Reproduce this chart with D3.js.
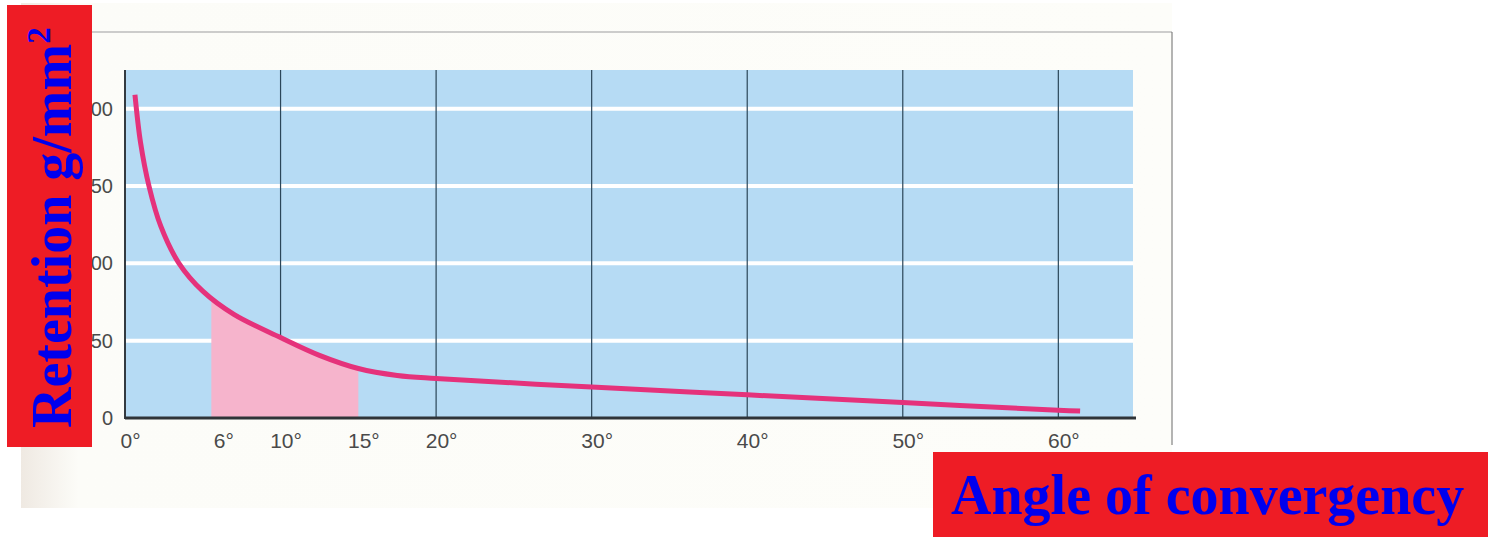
<!DOCTYPE html>
<html>
<head>
<meta charset="utf-8">
<script src="https://cdn.jsdelivr.net/npm/d3@7/dist/d3.min.js"></script>
<style>
  html, body { margin: 0; padding: 0; background: #ffffff; }
  svg { display: block; }
</style>
</head>
<body>
<svg id="chart" width="1488" height="537"></svg>
<script>
// ---- data ----
const angles    = [0.64, 1.0, 1.54, 2.3, 3.47, 5.0, 7.0, 10, 12.5, 15, 17.5, 20, 30, 40, 50, 60, 61.4];
const retention = [209, 178, 150, 124, 100, 82, 67, 52, 40.5, 32, 27.5, 25.5, 20, 15, 10, 5, 4.5];
const xTickValues = [0, 6, 10, 15, 20, 30, 40, 50, 60];
const xGridValues = [10, 20, 30, 40, 50, 60];
const yTickValues = [0, 50, 100, 150, 200];
const yGridValues = [50, 100, 150, 200];
const shadedRange = [5.55, 15];
const yTitle = "Retention g/mm";
const yTitleSup = "2";
const xTitle = "Angle of convergency";

const points = angles.map((a, i) => ({ a, r: retention[i] }));

const svg = d3.select("#chart");

// paper background of the scan
const defs = svg.append("defs");
const grad = defs.append("linearGradient").attr("id", "paperGrad")
  .attr("x1", "0").attr("x2", "1").attr("y1", "0").attr("y2", "0");
grad.append("stop").attr("offset", "0").attr("stop-color", "#efe9e2");
grad.append("stop").attr("offset", "0.05").attr("stop-color", "#fcfcf8");
grad.append("stop").attr("offset", "1").attr("stop-color", "#fdfdf9");

svg.append("rect").attr("x", 21).attr("y", 3).attr("width", 1151).attr("height", 505)
  .attr("fill", "url(#paperGrad)");
svg.append("line").attr("x1", 92).attr("x2", 1172).attr("y1", 32).attr("y2", 32)
  .attr("stroke", "#bdbdbd").attr("stroke-width", 1.5);
svg.append("line").attr("x1", 1172).attr("x2", 1172).attr("y1", 32).attr("y2", 445)
  .attr("stroke", "#6a6a6a").attr("stroke-width", 1);

// scales
const x = d3.scaleLinear().domain([0, 64.8]).range([125, 1133]);
const y = d3.scaleLinear().domain([0, 225]).range([418, 70]);

// plot background
svg.append("rect")
  .attr("x", x(0)).attr("y", y(225))
  .attr("width", x(64.8) - x(0)).attr("height", y(0) - y(225))
  .attr("fill", "#b6dbf4");

// horizontal white gridlines
svg.append("g").selectAll("line").data(yGridValues).join("line")
  .attr("x1", x(0)).attr("x2", x(64.8))
  .attr("y1", d => y(d)).attr("y2", d => y(d))
  .attr("stroke", "#ffffff").attr("stroke-width", 4);

// vertical dark gridlines
svg.append("g").selectAll("line").data(xGridValues).join("line")
  .attr("x1", d => x(d)).attr("x2", d => x(d))
  .attr("y1", y(225)).attr("y2", y(0))
  .attr("stroke", "#2b4658").attr("stroke-width", 1.2);

// shaded area under the curve (clipped to the range)
defs.append("clipPath").attr("id", "shadeClip").append("rect")
  .attr("x", x(shadedRange[0])).attr("y", y(225))
  .attr("width", x(shadedRange[1]) - x(shadedRange[0]))
  .attr("height", y(0) - y(225));

const curveType = d3.curveCatmullRom.alpha(0.5);

const area = d3.area()
  .x(d => x(d.a)).y0(y(0)).y1(d => y(d.r))
  .curve(curveType);
svg.append("path").datum(points)
  .attr("d", area)
  .attr("fill", "#f6b4cc")
  .attr("clip-path", "url(#shadeClip)");

// curve
const line = d3.line().x(d => x(d.a)).y(d => y(d.r)).curve(curveType);
svg.append("path").datum(points)
  .attr("d", line)
  .attr("fill", "none")
  .attr("stroke", "#e5327b")
  .attr("stroke-width", 5);

// axis lines
svg.append("line").attr("x1", x(0)).attr("x2", x(0)).attr("y1", y(225)).attr("y2", y(0) + 1)
  .attr("stroke", "#333a40").attr("stroke-width", 2);
svg.append("line").attr("x1", x(0)).attr("x2", 1136).attr("y1", y(0)).attr("y2", y(0))
  .attr("stroke", "#2f3438").attr("stroke-width", 3);

// y tick labels
const yAxis = svg.append("g").attr("transform", `translate(${x(0)},0)`)
  .call(d3.axisLeft(y).tickValues(yTickValues).tickSize(0).tickPadding(12));
yAxis.select(".domain").remove();
yAxis.selectAll("text")
  .attr("font-family", "'Liberation Sans', Arial, sans-serif")
  .attr("font-size", 20).attr("fill", "#4a4a4a");

// x tick labels
const xAxis = svg.append("g").attr("transform", `translate(0,${y(0)})`)
  .call(d3.axisBottom(x).tickValues(xTickValues).tickFormat(d => d + "°").tickSize(0).tickPadding(15));
xAxis.select(".domain").remove();
xAxis.selectAll("text")
  .attr("dx", 5)
  .attr("font-family", "'Liberation Sans', Arial, sans-serif")
  .attr("font-size", 21).attr("fill", "#4a4a4a");

// y title box
svg.append("rect").attr("x", 7).attr("y", 5).attr("width", 85).attr("height", 442)
  .attr("fill", "#ee1c25");
const yt = svg.append("text")
  .attr("transform", "translate(71,428) rotate(-90)")
  .attr("font-family", "'Liberation Serif', 'Times New Roman', serif")
  .attr("font-weight", "bold").attr("font-size", 56).attr("fill", "#0000ee");
yt.append("tspan").text(yTitle);
yt.append("tspan").attr("font-size", 33).attr("dy", -21).text(yTitleSup);

// x title box
svg.append("rect").attr("x", 933).attr("y", 452).attr("width", 555).attr("height", 85)
  .attr("fill", "#ee1c25");
svg.append("text").attr("x", 951).attr("y", 514)
  .attr("font-family", "'Liberation Serif', 'Times New Roman', serif")
  .attr("font-weight", "bold").attr("font-size", 56).attr("fill", "#0000ee")
  .text(xTitle);
</script>
</body>
</html>
